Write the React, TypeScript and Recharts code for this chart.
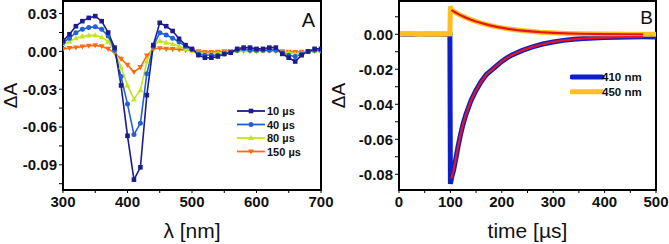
import React from 'react';
import { LineChart, Line, XAxis, YAxis, ReferenceArea, Legend } from 'recharts';

// ---------- Panel A data ----------
const wavelengths = [300, 310, 320, 330, 340, 350, 360, 370, 380, 390, 400, 410, 420, 430, 440, 450, 460, 470, 480, 490, 500, 510, 520, 530, 540, 550, 560, 570, 580, 590, 600, 610, 620, 630, 640, 650, 660, 670, 680, 690, 700];
const s10us = [0.0084, 0.0136, 0.020, 0.024, 0.0266, 0.028, 0.024, 0.015, 0.003, -0.027, -0.067, -0.1018, -0.092, -0.0347, 0.005, 0.0227, 0.020, 0.0162, 0.010, 0.005, 0.002, -0.003, -0.005, -0.005, -0.004, -0.002, -0.001, 0.002, 0.003, 0.003, 0.002, 0.002, 0.003, 0.003, -0.002, -0.005, -0.008, -0.003, 0.0, 0.002, 0.002];
const s40us = [0.007, 0.0105, 0.0149, 0.0175, 0.019, 0.0195, 0.0175, 0.0123, 0.001, -0.020, -0.0418, -0.066, -0.057, -0.0177, 0.004, 0.0149, 0.013, 0.0105, 0.0075, 0.004, 0.0015, -0.002, -0.003, -0.003, -0.003, -0.002, -0.001, 0.001, 0.002, 0.001, 0.001, 0.001, 0.001, 0.001, -0.001, -0.003, -0.004, -0.002, 0, 0.001, 0.001];
const s80us = [0.0058, 0.0078, 0.0105, 0.012, 0.0127, 0.0128, 0.0113, 0.0078, 0.0005, -0.0125, -0.027, -0.038, -0.0308, -0.008, 0.0045, 0.0084, 0.007, 0.0058, 0.004, 0.002, 0.0005, -0.001, -0.002, -0.002, -0.0015, -0.001, 0, 0.0005, 0.001, 0.001, 0.0005, 0.0005, 0.001, 0.001, 0, -0.001, -0.002, -0.001, 0, 0.0005, 0.0005];
const s150us = [0.0019, 0.0027, 0.0031, 0.0038, 0.0045, 0.0048, 0.004, 0.002, -0.001, -0.006, -0.0107, -0.0164, -0.0125, -0.0034, 0.0019, 0.0025, 0.002, 0.0018, 0.0015, 0.001, 0.0008, 0, -0.0005, -0.0005, -0.0003, 0, 0.0003, 0.0005, 0.0005, 0.0003, 0.0003, 0.0005, 0.0005, 0.0003, 0, -0.0003, -0.0005, -0.0003, 0, 0.0003, 0.0003];
const seriesNamesA = ['10 µs', '40 µs', '80 µs', '150 µs'];
const xTicksA = [300, 350, 400, 450, 500, 550, 600, 650, 700];
const yTicksA = [-0.105, -0.09, -0.075, -0.06, -0.045, -0.03, -0.015, 0, 0.015, 0.03];

// ---------- Panel B data ----------
const t410 = [0, 25, 50, 75, 99, 100, 101, 103, 106, 110, 115, 120, 125, 130, 140, 150, 160, 170, 180, 190, 200, 210, 220, 240, 260, 280, 300, 320, 340, 360, 380, 400, 425, 450, 475, 500];
const a410 = [0, 0, 0, 0, 0, -0.0855, -0.084, -0.081, -0.078, -0.072, -0.064, -0.057, -0.051, -0.046, -0.038, -0.032, -0.027, -0.023, -0.0205, -0.018, -0.0155, -0.0135, -0.0118, -0.0092, -0.0072, -0.0056, -0.0044, -0.0035, -0.0029, -0.0024, -0.0021, -0.0019, -0.0017, -0.0016, -0.0015, -0.0015];
const tFit410 = [102, 103, 106, 110, 115, 120, 125, 130, 140, 150, 160, 170, 180, 190, 200, 210, 220, 240, 260, 280, 300, 320, 340, 360, 380, 400, 425, 450, 475];
const aFit410 = [-0.0825, -0.081, -0.078, -0.072, -0.064, -0.057, -0.051, -0.046, -0.038, -0.032, -0.027, -0.023, -0.0205, -0.018, -0.0155, -0.0135, -0.0118, -0.0092, -0.0072, -0.0056, -0.0044, -0.0035, -0.0029, -0.0024, -0.0021, -0.0019, -0.0017, -0.0016, -0.0015];
const t450 = [0, 20, 40, 60, 80, 99, 100, 102, 110, 120, 130, 140, 150, 160, 175, 190, 210, 230, 250, 275, 300, 325, 350, 400, 450, 500];
const a450 = [0, 0.0003, -0.0002, 0.0002, 0, 0.0002, 0.0160, 0.0140, 0.0124, 0.0108, 0.0095, 0.0083, 0.0073, 0.0064, 0.0052, 0.0042, 0.0032, 0.0024, 0.0018, 0.0012, 0.0008, 0.0005, 0.0003, 0.0001, 0, 0];
const tFit450 = [102, 110, 120, 130, 140, 150, 160, 175, 190, 210, 230, 250, 275, 300, 325, 350, 400, 450, 475];
const aFit450 = [0.0138, 0.0124, 0.0108, 0.0095, 0.0083, 0.0073, 0.0064, 0.0052, 0.0042, 0.0032, 0.0024, 0.0018, 0.0012, 0.0008, 0.0005, 0.0003, 0.0001, 0, 0];
const seriesNamesB = ['410 nm', '450 nm'];
const xTicksB = [0, 50, 100, 150, 200, 250, 300, 350, 400, 450, 500];
const yTicksB = [-0.08, -0.07, -0.06, -0.05, -0.04, -0.03, -0.02, -0.01, 0, 0.01];

const FONT = '"Liberation Sans", Arial, sans-serif';
const colorsA = ['#1c1c8e', '#2060da', '#c2e61c', '#ff6a12'];
const shapesA = ['square', 'circle', 'up', 'down'];
const colorsB = ['#0b1fcc', '#ffbf1f'];
const FIT = '#e8141c';

const dataA = wavelengths.map((wl, i) => ({ wl, s10: s10us[i], s40: s40us[i], s80: s80us[i], s150: s150us[i] }));
const toPts = (ts: number[], vs: number[]) => ts.map((t, i) => ({ t, v: vs[i] }));
const d410 = toPts(t410, a410);
const dFit410 = toPts(tFit410, aFit410);
const d450 = toPts(t450, a450);
const dFit450 = toPts(tFit450, aFit450);

function marker(shape: string, color: string, cx: number, cy: number, key?: any) {
  if (shape === 'square') return <rect key={key} x={cx - 2.3} y={cy - 2.3} width={4.6} height={4.6} fill={color} />;
  if (shape === 'circle') return <circle key={key} cx={cx} cy={cy} r={2.5} fill={color} />;
  if (shape === 'up') return <polygon key={key} points={`${cx},${cy - 3} ${cx - 2.9},${cy + 2.1} ${cx + 2.9},${cy + 2.1}`} fill={color} />;
  return <polygon key={key} points={`${cx},${cy + 3} ${cx - 2.9},${cy - 2.1} ${cx + 2.9},${cy - 2.1}`} fill={color} />;
}

const makeDot = (shape: string, color: string) => (props: any) => {
  const { cx, cy, index } = props;
  if (cx == null || cy == null) return <g key={`d${index}`} />;
  return marker(shape, color, cx, cy, `d${index}`);
};

const tickStyle = { fill: '#111', fontSize: 15, fontWeight: 'bold' as const, fontFamily: FONT };
const axisLine = { stroke: '#000', strokeWidth: 2 };
const tickLine = { stroke: '#000', strokeWidth: 1 };

const fmtA = (v: number) => (Math.round(Math.abs(v) * 1000) % 30 === 0 ? (Math.abs(v) < 1e-9 ? '0.00' : v.toFixed(2)) : '');
const fmtB = (v: number) => (Math.round(Math.abs(v) * 1000) % 20 === 0 ? (Math.abs(v) < 1e-9 ? '0.00' : v.toFixed(2)) : '');
const fmtX = (v: number) => (v % 100 === 0 ? String(v) : '');

const LegendA = () => (
  <svg width={100} height={60} style={{ display: 'block' }}>
    {seriesNamesA.map((n, i) => {
      const y = 6 + i * 13.5;
      return (
        <g key={n}>
          <line x1={2} x2={30} y1={y} y2={y} stroke={colorsA[i]} strokeWidth={1.8} />
          {marker(shapesA[i], colorsA[i], 16, y)}
          <text x={32} y={y + 4} fontSize={11} fontWeight="bold" fontFamily={FONT} fill="#111">{n}</text>
        </g>
      );
    })}
  </svg>
);

const LegendB = () => (
  <svg width={90} height={30} style={{ display: 'block' }}>
    {seriesNamesB.map((n, i) => {
      const y = 5 + i * 14.7;
      return (
        <g key={n}>
          <line x1={2} x2={32} y1={y} y2={y} stroke={colorsB[i]} strokeWidth={5} strokeLinecap="round" />
          <text x={32} y={y + 4} fontSize={11.5} fontWeight="bold" fontFamily={FONT} fill="#111">{n}</text>
        </g>
      );
    })}
  </svg>
);

export default function App() {
  return (
    <div style={{ position: 'absolute', left: 0, top: 0, width: 669, height: 244, background: '#fff', fontFamily: FONT, overflow: 'hidden' }}>
      <div style={{ position: 'absolute', left: 0, top: 0 }}>
        <LineChart width={345} height={244} data={dataA} margin={{ top: 1, right: 24, bottom: 0, left: 0 }}>
          <XAxis dataKey="wl" type="number" domain={[300, 700]} ticks={xTicksA} tickFormatter={fmtX}
            tick={tickStyle} axisLine={axisLine} tickLine={tickLine} tickSize={3} tickMargin={3} height={54}
            interval={0} allowDataOverflow
            label={{ value: 'λ [nm]', position: 'insideBottom', offset: 6, style: { fontSize: 21, fill: '#111', fontFamily: FONT } }} />
          <YAxis type="number" domain={[-0.11, 0.04]} ticks={yTicksA} tickFormatter={fmtA}
            tick={tickStyle} axisLine={axisLine} tickLine={tickLine} tickSize={4} tickMargin={2} width={63}
            interval={0} allowDataOverflow
            label={{ value: 'ΔA', angle: -90, position: 'insideLeft', offset: 10, style: { fontSize: 19, fill: '#111', fontFamily: FONT, textAnchor: 'middle' } }} />
          <ReferenceArea x1={300} x2={700} y1={-0.11} y2={0.04} fill="none" fillOpacity={0} stroke="#000" strokeWidth={2} />
          <Line dataKey="s150" name={seriesNamesA[3]} stroke={colorsA[3]} strokeWidth={1.6} dot={makeDot(shapesA[3], colorsA[3])} isAnimationActive={false} />
          <Line dataKey="s80" name={seriesNamesA[2]} stroke={colorsA[2]} strokeWidth={1.6} dot={makeDot(shapesA[2], colorsA[2])} isAnimationActive={false} />
          <Line dataKey="s40" name={seriesNamesA[1]} stroke={colorsA[1]} strokeWidth={1.6} dot={makeDot(shapesA[1], colorsA[1])} isAnimationActive={false} />
          <Line dataKey="s10" name={seriesNamesA[0]} stroke={colorsA[0]} strokeWidth={1.6} dot={makeDot(shapesA[0], colorsA[0])} isAnimationActive={false} />
          <Legend content={<LegendA />} layout="vertical" align="center" verticalAlign="middle"
            wrapperStyle={{ position: 'absolute', left: 235, top: 105, width: 100, height: 60 }} />
        </LineChart>
      </div>
      <div style={{ position: 'absolute', left: 324, top: 0 }}>
        <LineChart width={345} height={244} margin={{ top: 1, right: 13, bottom: 0, left: 0 }}>
          <XAxis dataKey="t" type="number" domain={[0, 500]} ticks={xTicksB} tickFormatter={fmtX}
            tick={tickStyle} axisLine={axisLine} tickLine={tickLine} tickSize={3} tickMargin={3} height={54}
            interval={0} allowDataOverflow
            label={{ value: 'time [µs]', position: 'insideBottom', offset: 6, style: { fontSize: 21, fill: '#111', fontFamily: FONT } }} />
          <YAxis type="number" domain={[-0.089, 0.019]} ticks={yTicksB} tickFormatter={fmtB}
            tick={tickStyle} axisLine={axisLine} tickLine={tickLine} tickSize={4} tickMargin={2} width={75}
            interval={0} allowDataOverflow
            label={{ value: 'ΔA', angle: -90, position: 'insideLeft', offset: 14, style: { fontSize: 19, fill: '#111', fontFamily: FONT, textAnchor: 'middle' } }} />
          <ReferenceArea x1={0} x2={500} y1={-0.089} y2={0.019} fill="none" fillOpacity={0} stroke="#000" strokeWidth={2} />
          <Line data={d410} dataKey="v" name={seriesNamesB[0]} stroke={colorsB[0]} strokeWidth={5} dot={false} isAnimationActive={false} />
          <Line data={d450} dataKey="v" name={seriesNamesB[1]} stroke={colorsB[1]} strokeWidth={5} dot={false} isAnimationActive={false} />
          <Line data={dFit410} dataKey="v" name="fit 410" stroke={FIT} strokeWidth={2.2} dot={false} isAnimationActive={false} legendType="none" />
          <Line data={dFit450} dataKey="v" name="fit 450" stroke={FIT} strokeWidth={2.2} dot={false} isAnimationActive={false} legendType="none" />
          <Legend content={<LegendB />} layout="vertical" align="center" verticalAlign="middle"
            wrapperStyle={{ position: 'absolute', left: 246, top: 72, width: 90, height: 30 }} />
        </LineChart>
      </div>
      <svg width={669} height={244} style={{ position: 'absolute', left: 0, top: 0, pointerEvents: 'none' }}>
        <text x={315} y={27} textAnchor="end" fontSize={20} fontFamily={FONT} fill="#111">A</text>
        <text x={653} y={24} textAnchor="end" fontSize={19} fontFamily={FONT} fill="#111">B</text>
      </svg>
    </div>
  );
}
